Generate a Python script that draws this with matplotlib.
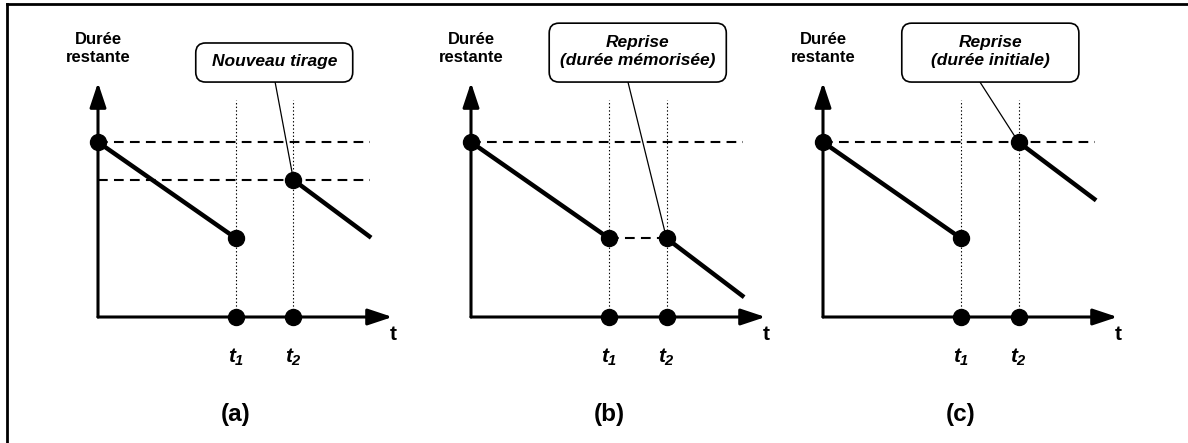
import matplotlib
matplotlib.use("Agg")
import matplotlib.pyplot as plt
from matplotlib.lines import Line2D
from matplotlib.patches import FancyBboxPatch

plt.rcParams['font.family'] = 'Liberation Sans'
plt.rcParams['font.weight'] = 'bold'
plt.rcParams['mathtext.fontset'] = 'custom'
plt.rcParams['mathtext.it'] = 'Liberation Sans:bold:italic'
plt.rcParams['mathtext.rm'] = 'Liberation Sans:bold:italic'
plt.rcParams['lines.scale_dashes'] = False

# instants et durées (unités arbitraires)
t1, t2 = 2.4, 3.4
t_end = 4.75
d_init = 3.0          # durée tirée à t=0
d_at_t1 = 1.35        # durée restante à t1

panel_names = ['(a)', '(b)', '(c)']
d_restart = [2.35, 1.35, 3.0]     # durée restante à t2
d_end = [1.36, 0.34, 2.0]         # durée restante en fin de segment
bubble_texts = ['Nouveau tirage', 'Reprise\n(durée mémorisée)', 'Reprise\n(durée initiale)']
box_left = [1.70, 1.36, 1.37]
box_right = [4.43, 4.44, 4.45]
box_top = [4.70, 5.04, 5.04]
box_bottom = 4.03
anchor_x = [3.08, 2.73, 2.73]
dash_levels = [[d_init, 2.35], [d_init], [d_init]]

# placement des panneaux (pixels de l'origine)
origin_px = [98, 471, 823]
W, H = 1188, 443
x_unit, y_unit = 57.5, 58.3
xlim = (-1.4, 5.4)
ylim = (-126 / y_unit, (H - 126) / y_unit)

fig = plt.figure(figsize=(W / 100, H / 100), dpi=100)

dash = (0, (7, 4.5))
dot = (0, (1, 1.6))

for i in range(3):
    left = (origin_px[i] + xlim[0] * x_unit) / W
    width = (xlim[1] - xlim[0]) * x_unit / W
    ax = fig.add_axes([left, 0, width, 1])
    ax.set_xlim(*xlim)
    ax.set_ylim(*ylim)
    ax.axis('off')
    ax.patch.set_alpha(0)

    # axes avec flèches
    arrow = dict(arrowstyle='-|>,head_length=1.5,head_width=0.5', lw=2.2,
                 color='black', mutation_scale=10, shrinkA=0, shrinkB=0)
    ax.annotate('', xy=(0, 4.02), xytext=(0, 0), arrowprops=arrow)
    ax.annotate('', xy=(5.12, 0), xytext=(0, 0), arrowprops=arrow)
    ax.text(5.13, -0.3, 't', fontsize=15, ha='center', va='center')
    ax.text(0, 4.6, 'Durée\nrestante', fontsize=12, ha='center', va='center',
            linespacing=1.25)

    # repères verticaux en pointillé
    for tt in (t1, t2):
        ax.plot([tt, tt], [0, 3.72], color='black', lw=0.8, linestyle=dot)
    ax.text(t1, -0.69, r'$\mathit{t_1}$', fontsize=15, ha='center', va='center')
    ax.text(t2, -0.69, r'$\mathit{t_2}$', fontsize=15, ha='center', va='center')

    # niveaux en tirets
    for lev in dash_levels[i]:
        ax.plot([0, 4.73], [lev, lev], color='black', lw=1.5, linestyle=dash, zorder=2)
    if i == 1:
        ax.plot([t1, t2], [d_at_t1, d_at_t1], color='black', lw=1.5, linestyle=dash, zorder=2)

    # segments de durée restante
    ax.plot([0, t1], [d_init, d_at_t1], color='black', lw=3.2, solid_capstyle='butt', zorder=3)
    ax.plot([t2, t_end], [d_restart[i], d_end[i]], color='black', lw=3.2,
            solid_capstyle='butt', zorder=3)
    ax.plot([0, t1, t2, t1, t2], [d_init, d_at_t1, d_restart[i], 0, 0], 'o',
            color='black', markersize=11.5, zorder=5)

    # bulle et trait de liaison
    ax.plot([anchor_x[i], t2], [box_bottom, d_restart[i]], color='black', lw=0.9, zorder=4)
    box = FancyBboxPatch((box_left[i], box_bottom), box_right[i] - box_left[i],
                         box_top[i] - box_bottom,
                         boxstyle='round,pad=0,rounding_size=0.17',
                         fc='white', ec='black', lw=1.2, zorder=6)
    ax.add_patch(box)
    ax.text((box_left[i] + box_right[i]) / 2, (box_top[i] + box_bottom) / 2 + 0.02,
            bubble_texts[i], fontsize=12.5, style='italic', ha='center', va='center',
            linespacing=1.2, zorder=7)

    ax.text(t1, -1.68, panel_names[i], fontsize=17.5, ha='center', va='center')

# cadre (haut et gauche)
fig.add_artist(Line2D([7 / W, 1], [1 - 4 / H, 1 - 4 / H], color='black', lw=2,
                      transform=fig.transFigure))
fig.add_artist(Line2D([7 / W, 7 / W], [0, 1 - 4 / H], color='black', lw=2,
                      transform=fig.transFigure))

fig.savefig('out.png', dpi=100)
